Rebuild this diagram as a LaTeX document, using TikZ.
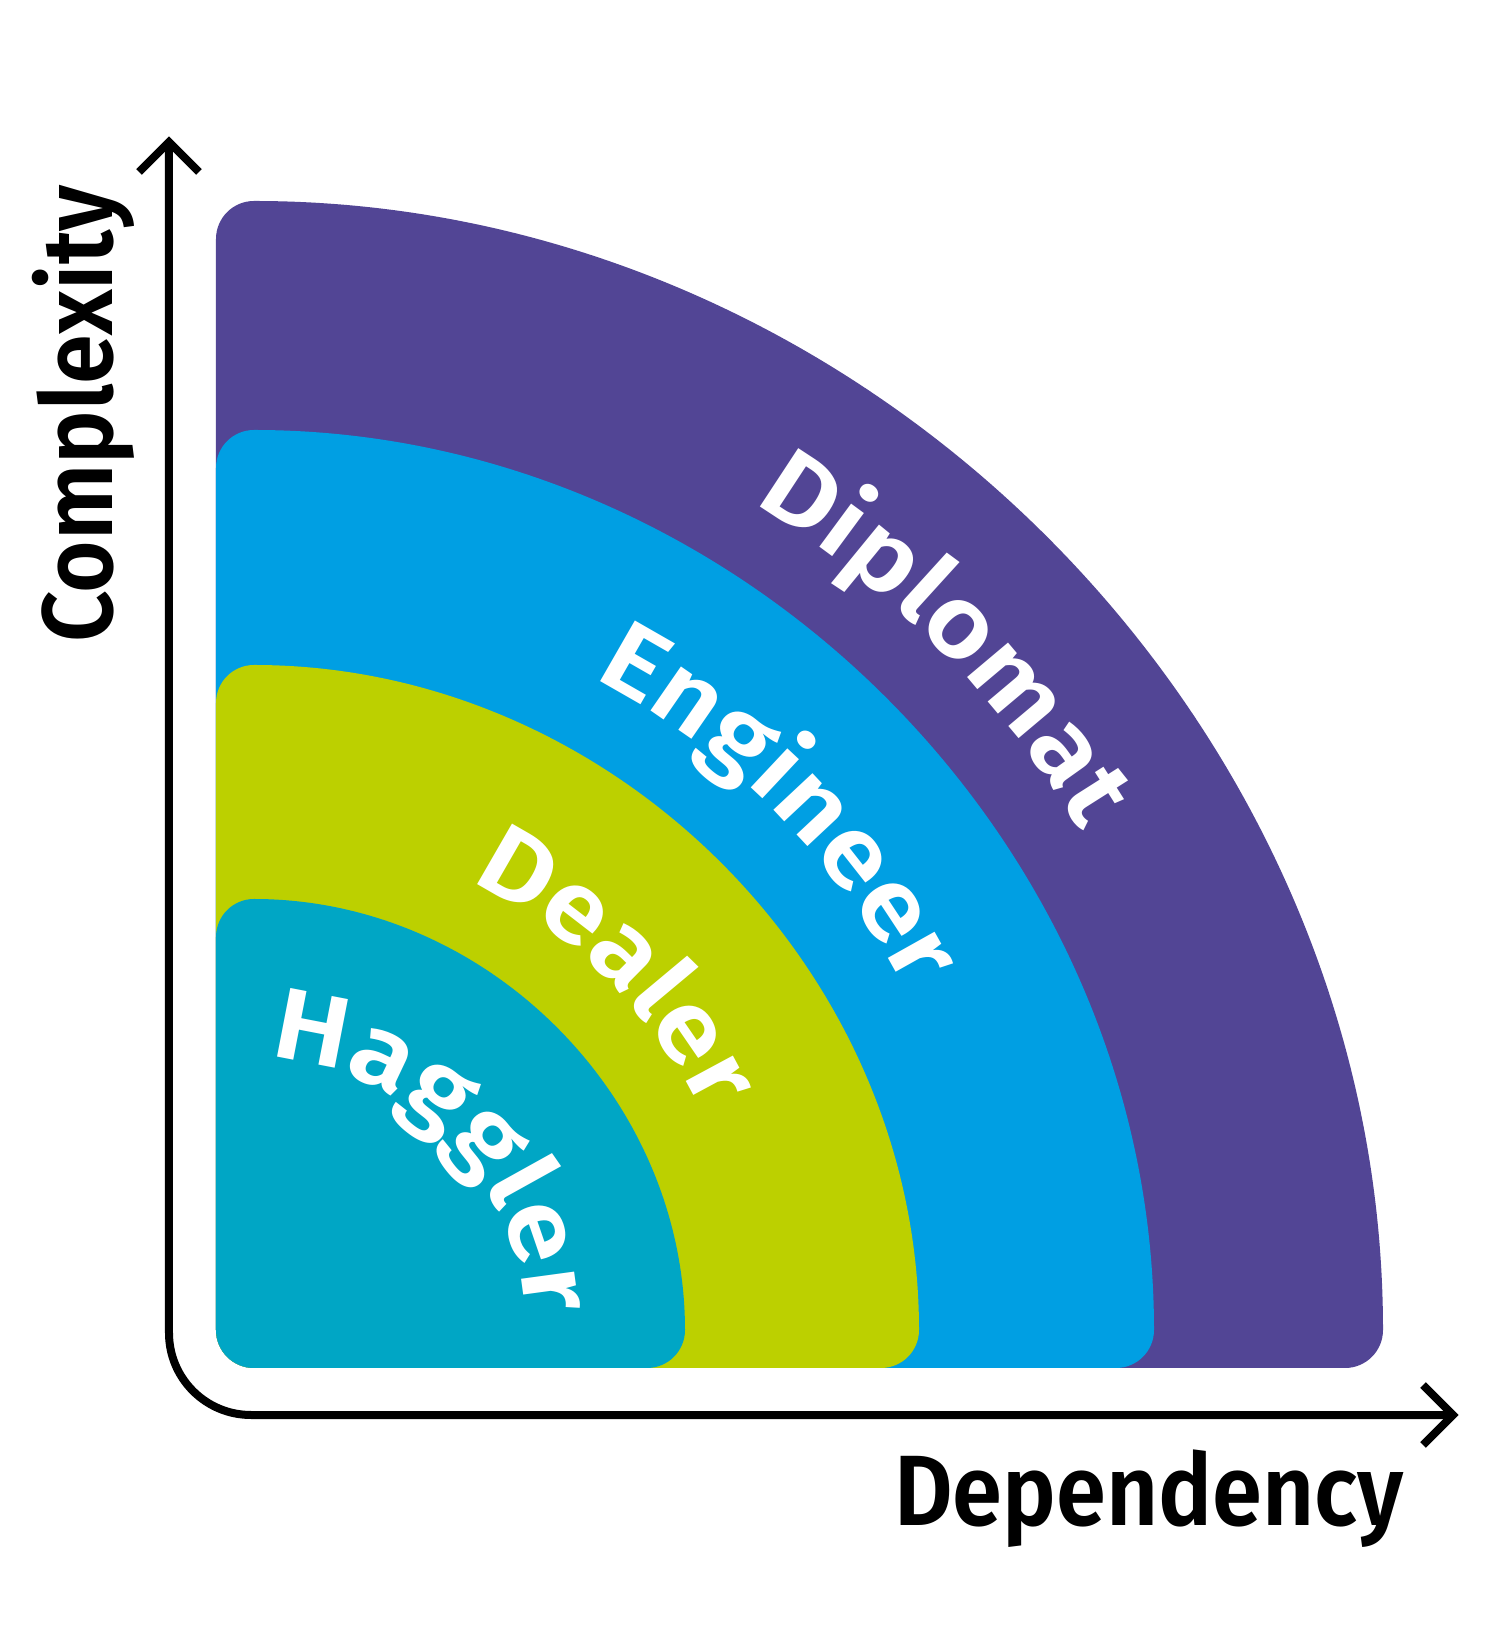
\documentclass[tikz,border=0pt]{standalone}
\usepackage{fontspec}
\setmainfont{Fira Sans}
\newfontfamily\sbfont{Fira Sans SemiBold}
\newfontfamily\sbwide[FakeStretch=1.11]{Fira Sans SemiBold}
\usetikzlibrary{decorations.text}
\definecolor{cPurple}{RGB}{82,69,149}
\definecolor{cBlue}{RGB}{0,159,227}
\definecolor{cGreen}{RGB}{188,208,0}
\definecolor{cTeal}{RGB}{0,166,197}
\newcommand\lblfont{\color{white}\fontsize{101}{120}\sbwide}
\newcommand\axfont{\color{black}\fontsize{100}{120}\sbfont}
\tikzset{
  axisline/.style={line width=8pt, draw=black, line join=miter},
  arclabel/.style={decorate, decoration={text along path, text align=center, text color=white, text={|\lblfont|#1}}}
}
\begin{document}
\begin{tikzpicture}[x=1pt,y=1pt]
\fill[white] (-254,-297) rectangle (1246,1330);
\useasboundingbox (-254,-297) rectangle (1246,1330);
% bands
\fill[cPurple] (-38,1091) arc[start angle=180,end angle=90,radius=38pt]
  .. controls (609.7,1129) and (1129,609.7) .. (1129,0)
  arc[start angle=0,end angle=-90,radius=38pt] -- (0,-38)
  arc[start angle=270,end angle=180,radius=38pt] -- cycle;
\fill[cBlue] (-38,862) arc[start angle=180,end angle=90,radius=38pt]
  .. controls (486,900) and (900,486) .. (900,0)
  arc[start angle=0,end angle=-90,radius=38pt] -- (0,-38)
  arc[start angle=270,end angle=180,radius=38pt] -- cycle;
\fill[cGreen] (-38,627) arc[start angle=180,end angle=90,radius=38pt]
  .. controls (359.1,665) and (665,359.1) .. (665,0)
  arc[start angle=0,end angle=-90,radius=38pt] -- (0,-38)
  arc[start angle=270,end angle=180,radius=38pt] -- cycle;
\fill[cTeal] (-38,393) arc[start angle=180,end angle=90,radius=38pt]
  .. controls (232.7,431) and (431,232.7) .. (431,0)
  arc[start angle=0,end angle=-90,radius=38pt] -- (0,-38)
  arc[start angle=270,end angle=180,radius=38pt] -- cycle;
% labels along arcs
\path[arclabel=Diplomat] (90:966pt) arc[start angle=90,end angle=0,radius=966pt];
\path[arclabel=Engineer] (90:735pt) arc[start angle=90,end angle=0,radius=735pt];
\path[arclabel=Dealer] (90:498pt) arc[start angle=90,end angle=0,radius=498pt];
\path[arclabel=Haggler] (90:272pt) arc[start angle=90,end angle=0,radius=272pt];
% axes
\draw[axisline, rounded corners=82pt] (-85,1188) -- (-85,-85) -- (1199,-85);
\draw[axisline] (-115,1158) -- (-85,1188) -- (-55,1158);
\draw[axisline] (1169,-55) -- (1199,-85) -- (1169,-115);
\node[rotate=90, anchor=base, inner sep=0pt] (ylab) at (-141,916) {\resizebox{458pt}{\height}{\axfont Complexity}};
\node[anchor=base, inner sep=0pt] (xlab) at (895,-195.5) {\resizebox{510pt}{\height}{\axfont Dependency}};
\end{tikzpicture}
\end{document}
